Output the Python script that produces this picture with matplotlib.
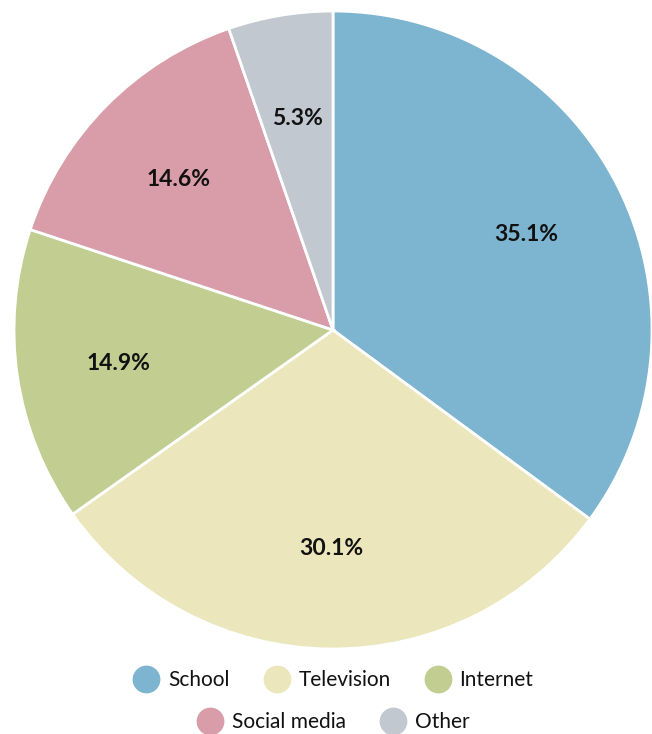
import matplotlib
matplotlib.use('Agg')
import matplotlib.pyplot as plt
from matplotlib.lines import Line2D

categories = ['School', 'Television', 'Internet', 'Social media', 'Other']
shares = [35.1, 30.1, 14.9, 14.6, 5.3]
colors = ['#7db4d0', '#ebe6bb', '#c1cd91', '#d99ca9', '#c1c8d0']

plt.rcParams['font.family'] = ['Lato', 'DejaVu Sans']

fig = plt.figure(figsize=(6.52, 7.34), dpi=100)
ax = fig.add_axes([0.0215, 0.1158, 0.9785, 0.8692])

wedges, texts, autotexts = ax.pie(
    shares, colors=colors, startangle=90, counterclock=False,
    autopct='%.1f%%', pctdistance=0.68,
    wedgeprops=dict(edgecolor='white', linewidth=2),
    textprops=dict(fontsize=16.5, fontweight='bold', color='#111111'))
for t in autotexts:
    t.set_va('center_baseline')
ax.set_xlim(-1, 1)
ax.set_ylim(-1, 1)
ax.set_aspect('equal')
ax.axis('off')


def handle(c):
    return Line2D([], [], linestyle='none', marker='o', markersize=20,
                  markerfacecolor=c, markeredgecolor='none')


rows = [(0, 3, 0.073), (3, 5, 0.016)]
for a, b, y in rows:
    leg = fig.legend([handle(c) for c in colors[a:b]], categories[a:b],
                     loc='center', bbox_to_anchor=(0.511, y), ncol=b - a,
                     frameon=False, fontsize=15, handlelength=1.3,
                     handletextpad=0.4, columnspacing=1.6, borderpad=0,
                     borderaxespad=0)
    for t in leg.get_texts():
        t.set_color('#111111')

fig.savefig('out.png', dpi=100)
